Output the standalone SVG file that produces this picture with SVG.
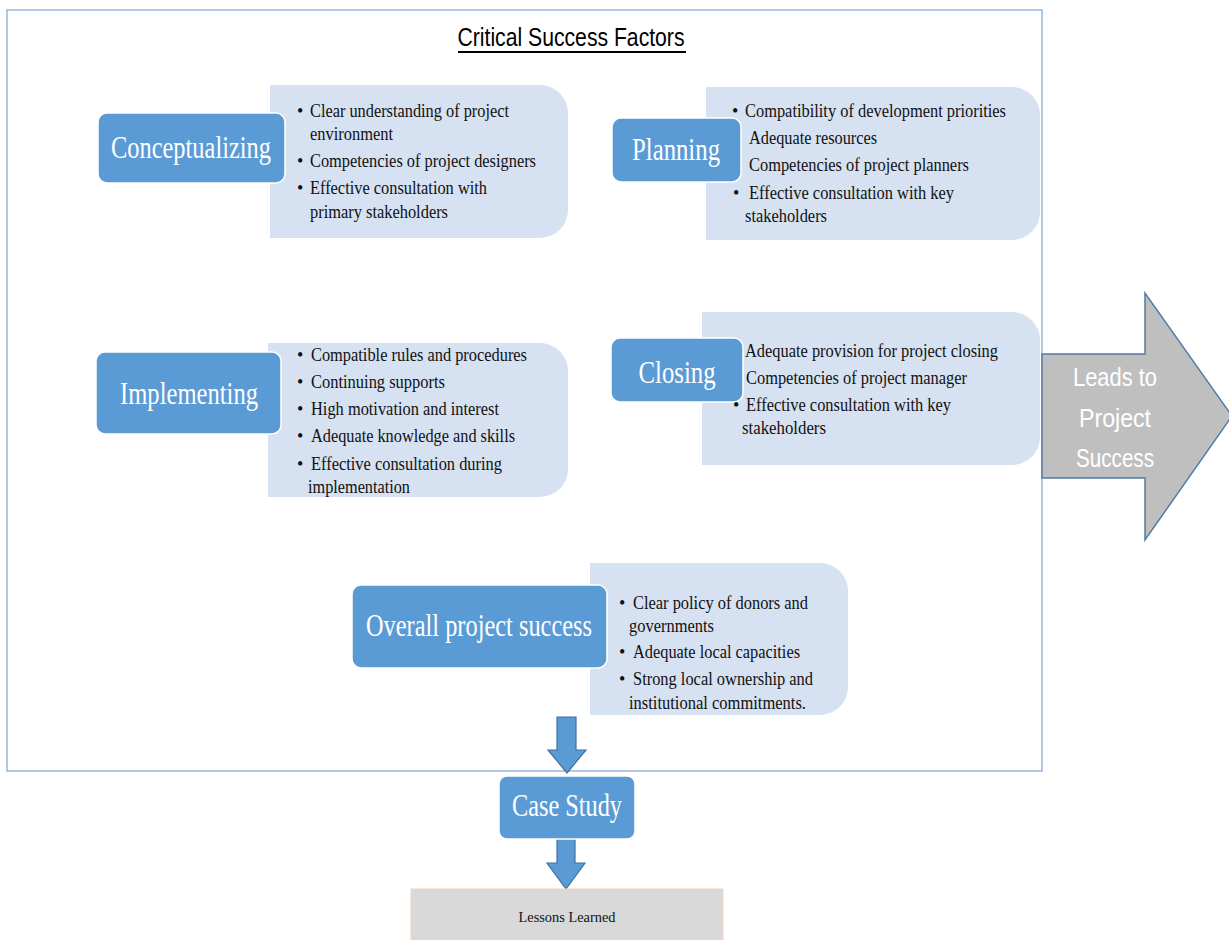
<svg xmlns="http://www.w3.org/2000/svg" width="1229" height="940" viewBox="0 0 1229 940">
<style>
.lt{fill:#d6e1f1;}
.bl{fill:#5b9bd5;stroke:#ffffff;stroke-width:1.5;}
.lbl{font-family:"Liberation Serif",serif;font-size:32px;fill:#ffffff;}
.tx{font-family:"Liberation Serif",serif;font-size:18px;fill:#111111;}
.sans{font-family:"Liberation Sans",sans-serif;}
.dn{fill:#5b9bd5;stroke:#41719c;stroke-width:1.2;}
</style>
<rect width="1229" height="940" fill="#ffffff"/>
<g id="frame">
<rect x="7" y="10" width="1035" height="761" fill="none" stroke="#7aa6d8" stroke-width="1.2"/>
<text x="571" y="46" text-anchor="middle" class="sans" font-size="26" fill="#000" textLength="227" lengthAdjust="spacingAndGlyphs">Critical Success Factors</text>
<line x1="458" y1="52" x2="686" y2="52" stroke="#000" stroke-width="2"/>
</g>
<g id="conceptualizing">
<path class="lt" d="M270,85 H540 A28,28 0 0 1 568,113 V210 A28,28 0 0 1 540,238 H270 Z"/>
<rect class="bl" x="98" y="113" width="187" height="70" rx="9"/>
<text class="lbl" x="191" y="158" text-anchor="middle" textLength="160" lengthAdjust="spacingAndGlyphs">Conceptualizing</text>
<text class="tx" y="117"><tspan x="297">•</tspan><tspan x="310" textLength="199" lengthAdjust="spacingAndGlyphs">Clear understanding of project</tspan></text>
<text class="tx" x="310" y="140" textLength="83" lengthAdjust="spacingAndGlyphs">environment</text>
<text class="tx" y="167"><tspan x="297">•</tspan><tspan x="310" textLength="226" lengthAdjust="spacingAndGlyphs">Competencies of project designers</tspan></text>
<text class="tx" y="194"><tspan x="297">•</tspan><tspan x="310" textLength="177" lengthAdjust="spacingAndGlyphs">Effective consultation with</tspan></text>
<text class="tx" x="310" y="218" textLength="138" lengthAdjust="spacingAndGlyphs">primary stakeholders</text>
</g>
<g id="planning">
<path class="lt" d="M706,87 H1012 A28,28 0 0 1 1040,115 V212 A28,28 0 0 1 1012,240 H706 Z"/>
<rect class="bl" x="612" y="118" width="129" height="64" rx="9"/>
<text class="lbl" x="676" y="160" text-anchor="middle" textLength="88" lengthAdjust="spacingAndGlyphs">Planning</text>
<text class="tx" y="117"><tspan x="732">•</tspan><tspan x="745" textLength="261" lengthAdjust="spacingAndGlyphs">Compatibility of development priorities</tspan></text>
<text class="tx" x="749" y="144" textLength="128" lengthAdjust="spacingAndGlyphs">Adequate resources</text>
<text class="tx" x="749" y="171" textLength="220" lengthAdjust="spacingAndGlyphs">Competencies of project planners</text>
<text class="tx" y="199"><tspan x="733">•</tspan><tspan x="749" textLength="205" lengthAdjust="spacingAndGlyphs">Effective consultation with key</tspan></text>
<text class="tx" x="745" y="222" textLength="82" lengthAdjust="spacingAndGlyphs">stakeholders</text>
</g>
<g id="implementing">
<path class="lt" d="M268,343 H540 A28,28 0 0 1 568,371 V469 A28,28 0 0 1 540,497 H268 Z"/>
<rect class="bl" x="96" y="352" width="185" height="82" rx="9"/>
<text class="lbl" x="189" y="404" text-anchor="middle" textLength="138" lengthAdjust="spacingAndGlyphs">Implementing</text>
<text class="tx" y="361"><tspan x="297">•</tspan><tspan x="311" textLength="216" lengthAdjust="spacingAndGlyphs">Compatible rules and procedures</tspan></text>
<text class="tx" y="388"><tspan x="297">•</tspan><tspan x="311" textLength="134" lengthAdjust="spacingAndGlyphs">Continuing supports</tspan></text>
<text class="tx" y="415"><tspan x="297">•</tspan><tspan x="311" textLength="188" lengthAdjust="spacingAndGlyphs">High motivation and interest</tspan></text>
<text class="tx" y="442"><tspan x="297">•</tspan><tspan x="311" textLength="204" lengthAdjust="spacingAndGlyphs">Adequate knowledge and skills</tspan></text>
<text class="tx" y="470"><tspan x="297">•</tspan><tspan x="311" textLength="191" lengthAdjust="spacingAndGlyphs">Effective consultation during</tspan></text>
<text class="tx" x="308" y="493" textLength="102" lengthAdjust="spacingAndGlyphs">implementation</text>
</g>
<g id="closing">
<path class="lt" d="M702,312 H1012 A28,28 0 0 1 1040,340 V437 A28,28 0 0 1 1012,465 H702 Z"/>
<rect class="bl" x="611" y="338" width="132" height="64" rx="9"/>
<text class="lbl" x="677" y="383" text-anchor="middle" textLength="77" lengthAdjust="spacingAndGlyphs">Closing</text>
<text class="tx" x="745" y="357" textLength="253" lengthAdjust="spacingAndGlyphs">Adequate provision for project closing</text>
<text class="tx" x="746" y="384" textLength="221" lengthAdjust="spacingAndGlyphs">Competencies of project manager</text>
<text class="tx" y="411"><tspan x="733">•</tspan><tspan x="746" textLength="205" lengthAdjust="spacingAndGlyphs">Effective consultation with key</tspan></text>
<text class="tx" x="742" y="434" textLength="84" lengthAdjust="spacingAndGlyphs">stakeholders</text>
</g>
<g id="leads-to-success">
<path d="M1042,354 H1145 V293 L1232,416 L1145,540 V478 H1042 Z" fill="#bfbfbf" stroke="#4f7ba7" stroke-width="1.5"/>
<text class="sans" x="1115" y="386" text-anchor="middle" font-size="26" fill="#ffffff" textLength="84" lengthAdjust="spacingAndGlyphs">Leads to</text>
<text class="sans" x="1115" y="427" text-anchor="middle" font-size="26" fill="#ffffff" textLength="72" lengthAdjust="spacingAndGlyphs">Project</text>
<text class="sans" x="1115" y="467" text-anchor="middle" font-size="26" fill="#ffffff" textLength="78" lengthAdjust="spacingAndGlyphs">Success</text>
</g>
<g id="overall">
<path class="lt" d="M590,563 H820 A28,28 0 0 1 848,591 V687 A28,28 0 0 1 820,715 H590 Z"/>
<rect class="bl" x="352" y="585" width="255" height="83" rx="9"/>
<text class="lbl" x="479" y="636" text-anchor="middle" textLength="226" lengthAdjust="spacingAndGlyphs">Overall project success</text>
<text class="tx" y="609"><tspan x="619">•</tspan><tspan x="633" textLength="175" lengthAdjust="spacingAndGlyphs">Clear policy of donors and</tspan></text>
<text class="tx" x="629" y="632" textLength="85" lengthAdjust="spacingAndGlyphs">governments</text>
<text class="tx" y="658"><tspan x="619">•</tspan><tspan x="633" textLength="167" lengthAdjust="spacingAndGlyphs">Adequate local capacities</tspan></text>
<text class="tx" y="685"><tspan x="619">•</tspan><tspan x="633" textLength="180" lengthAdjust="spacingAndGlyphs">Strong local ownership and</tspan></text>
<text class="tx" x="629" y="709" textLength="177" lengthAdjust="spacingAndGlyphs">institutional commitments.</text>
</g>
<g id="connectors">
<path class="dn" d="M557,717 H576 V750 H586 L567,773 L548,750 H557 Z"/>
<path class="dn" d="M557,832 H575 V863 H585 L566,889 L547,863 H557 Z"/>
</g>
<g id="case-study">
<rect class="bl" x="499" y="776" width="136" height="63" rx="8"/>
<text class="lbl" x="567" y="816" text-anchor="middle" textLength="110" lengthAdjust="spacingAndGlyphs">Case Study</text>
</g>
<g id="lessons-learned">
<rect x="411" y="889" width="312" height="60" fill="#d9d9d9" stroke="#f5d3b8" stroke-width="1"/>
<text x="567" y="922" text-anchor="middle" font-family="Liberation Serif, serif" font-size="15" fill="#111" textLength="97" lengthAdjust="spacingAndGlyphs">Lessons Learned</text>
</g>
</svg>
